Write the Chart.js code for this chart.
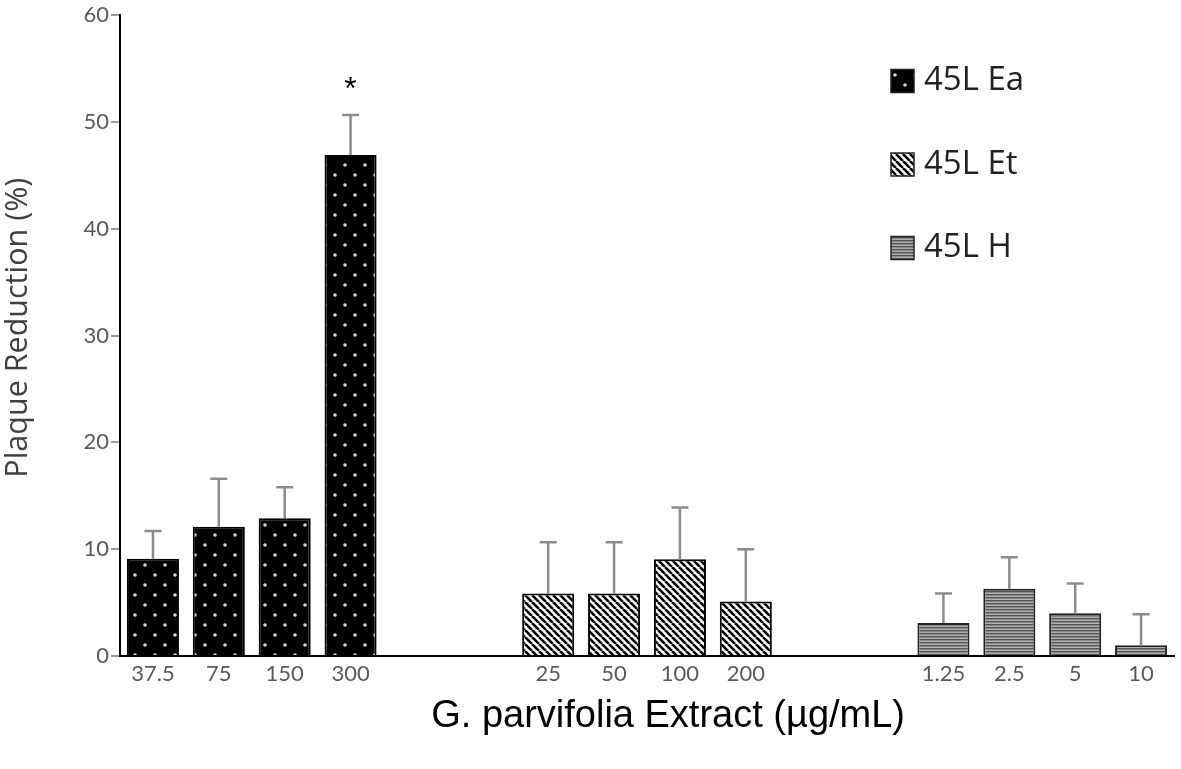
<!DOCTYPE html>
<html>
<head>
<meta charset="utf-8">
<script src="https://cdn.jsdelivr.net/npm/chart.js@4.4.0/dist/chart.umd.min.js"></script>
<style>
  html, body { margin: 0; padding: 0; background: #fff; }
</style>
</head>
<body>
<canvas id="graph" width="1181" height="769"></canvas>
<script>
// plaque reduction (%): bar = mean, whisker = +SD
const eaDoses = ['37.5', '75', '150', '300'];
const eaMeans = [9.1, 12.1, 12.9, 46.9];
const eaErrors = [2.6, 4.5, 2.9, 3.75];
const eaMarks = ['', '', '', '*'];

const etDoses = ['25', '50', '100', '200'];
const etMeans = [5.85, 5.85, 9.05, 5.1];
const etErrors = [4.8, 4.8, 4.85, 4.9];

const hDoses = ['1.25', '2.5', '5', '10'];
const hMeans = [3.1, 6.3, 4.0, 1.0];
const hErrors = [2.75, 2.95, 2.8, 2.9];

const gap = ['', ''];
const seriesNames = ['45L Ea', '45L Et', '45L H'];
const yMin = 0, yMax = 60, yStep = 10;

const labels = [...eaDoses, ...gap, ...etDoses, ...gap, ...hDoses];

// put a group's values into its slots, nulls elsewhere
function place(values, offset) {
  const out = labels.map(() => null);
  values.forEach((v, i) => { out[offset + i] = v; });
  return out;
}

function tile(w, h, paint) {
  const c = document.createElement('canvas');
  c.width = w; c.height = h;
  const g = c.getContext('2d');
  paint(g);
  return g.createPattern(c, 'repeat');
}

const dots = tile(20, 20, g => {
  g.fillStyle = '#000';
  g.fillRect(0, 0, 20, 20);
  g.fillStyle = '#d4d4d4';
  [[5, 5], [15, 15]].forEach(([x, y]) => {
    g.beginPath(); g.arc(x, y, 1.8, 0, Math.PI * 2); g.fill();
  });
});

const stripes = tile(7, 7, g => {
  g.fillStyle = '#fff';
  g.fillRect(0, 0, 7, 7);
  g.strokeStyle = '#000';
  g.lineWidth = 2.6;
  [-7, 0, 7].forEach(x0 => {
    g.beginPath(); g.moveTo(x0, 0); g.lineTo(x0 + 7, 7); g.stroke();
  });
});

const hlines = tile(8, 3, g => {
  g.fillStyle = '#adadad';
  g.fillRect(0, 0, 8, 3);
  g.fillStyle = '#555';
  g.fillRect(0, 0, 8, 1.4);
});

const errorBars = {
  id: 'errorBars',
  afterDatasetsDraw(chart) {
    const ctx = chart.ctx;
    const y = chart.scales.y;
    chart.data.datasets.forEach((ds, di) => {
      const meta = chart.getDatasetMeta(di);
      meta.data.forEach((bar, i) => {
        const v = ds.data[i];
        if (v == null) return;
        const top = y.getPixelForValue(v + ds.errors[i]);
        ctx.save();
        ctx.strokeStyle = '#8c8c8c';
        ctx.lineWidth = 2.5;
        ctx.beginPath();
        ctx.moveTo(bar.x, bar.y);
        ctx.lineTo(bar.x, top);
        ctx.moveTo(bar.x - 8.5, top);
        ctx.lineTo(bar.x + 8.5, top);
        ctx.stroke();
        if (ds.marks && ds.marks[i]) {
          ctx.fillStyle = '#000';
          ctx.font = '32px "Liberation Sans"';
          ctx.textAlign = 'center';
          ctx.textBaseline = 'middle';
          ctx.fillText(ds.marks[i], bar.x, top - 25);
        }
        ctx.restore();
      });
    });
  }
};

const sideLegend = {
  id: 'sideLegend',
  afterDraw(chart) {
    const ctx = chart.ctx;
    chart.data.datasets.forEach((ds, i) => {
      const cy = 81 + i * 83.5;
      ctx.save();
      ctx.fillStyle = ds.backgroundColor;
      ctx.fillRect(891, cy - 11.5, 23, 23);
      ctx.strokeStyle = '#222';
      ctx.lineWidth = 1.5;
      ctx.strokeRect(891, cy - 11.5, 23, 23);
      ctx.fillStyle = '#222';
      ctx.font = '33px "Open Sans"';
      ctx.textBaseline = 'middle';
      ctx.fillText(ds.label, 924, cy);
      ctx.restore();
    });
  }
};

new Chart(document.getElementById('graph'), {
  type: 'bar',
  data: {
    labels: labels,
    datasets: [
      { label: seriesNames[0], data: place(eaMeans, 0), errors: place(eaErrors, 0), marks: place(eaMarks, 0),
        backgroundColor: dots, borderColor: '#000', borderWidth: 2 },
      { label: seriesNames[1], data: place(etMeans, 6), errors: place(etErrors, 6),
        backgroundColor: stripes, borderColor: '#000', borderWidth: 2 },
      { label: seriesNames[2], data: place(hMeans, 12), errors: place(hErrors, 12),
        backgroundColor: hlines, borderColor: '#222', borderWidth: 2 }
    ]
  },
  options: {
    responsive: false,
    animation: false,
    skipNull: true,
    barPercentage: 0.79,
    categoryPercentage: 1.0,
    layout: { padding: { top: 11, right: 7, left: 0, bottom: 0 } },
    plugins: { legend: { display: false }, tooltip: { enabled: false } },
    scales: {
      x: {
        afterFit: s => { s.height = 113; },
        grid: { display: false, drawTicks: false },
        border: { color: '#000', width: 2 },
        ticks: { autoSkip: false, maxRotation: 0, padding: 5, color: '#595959',
                 font: { family: 'Lato', size: 22 } },
        // leading spaces push the title right, as in the figure
        title: { display: true, text: '    G. parvifolia Extract (µg/mL)', color: '#000',
                 font: { family: 'Liberation Sans', size: 38 }, padding: { top: 0, bottom: 30 } }
      },
      y: {
        min: yMin, max: yMax,
        afterFit: s => { s.width = 120; },
        grid: { drawOnChartArea: false, drawTicks: true, tickLength: 9, color: '#9a9a9a', lineWidth: 2 },
        border: { color: '#000', width: 2 },
        ticks: { stepSize: yStep, padding: 2, color: '#595959', font: { family: 'Lato', size: 22 } },
        title: { display: true, text: '  Plaque Reduction (%)', color: '#404040',
                 font: { family: 'Open Sans', size: 30.5 }, padding: { top: 0, bottom: 0 } }
      }
    }
  },
  plugins: [errorBars, sideLegend]
});
</script>
</body>
</html>
